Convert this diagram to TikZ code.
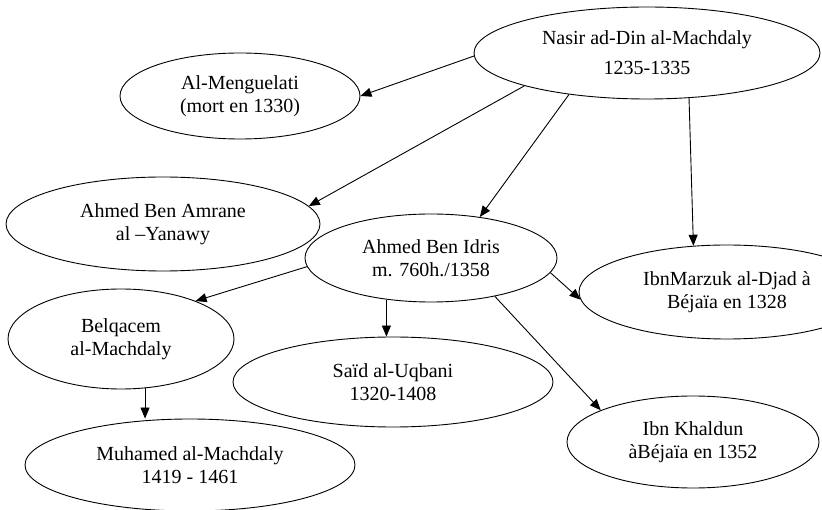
\documentclass[tikz,border=0pt]{standalone}
\usepackage{fontspec}
\setmainfont{Liberation Serif}
\usetikzlibrary{shapes.geometric,arrows.meta}

\begin{document}
\begin{tikzpicture}[x=1pt,y=-1pt,
    person/.style={draw, ellipse, line width=0.9pt, inner sep=0pt, align=center,
        font=\fontsize{20}{23}\selectfont},
    link/.style={-{Triangle[length=11pt,width=9pt]}, line width=0.9pt}]
    \useasboundingbox (0,0) rectangle (822,510);
    % persons
    \node[person, minimum width=346pt, minimum height=92pt] (nasir) at (647,53)
        {Nasir ad-Din al-Machdaly\\[7pt]1235-1335};
    \node[person, minimum width=240pt, minimum height=86pt] (meng) at (240,96)
        {Al-Menguelati\\ (mort en 1330)};
    \node[person, minimum width=314pt, minimum height=94pt] (amrane) at (163,224)
        {Ahmed Ben Amrane\\al –Yanawy};
    \node[person, minimum width=252pt, minimum height=88pt] (idris) at (431,258)
        {Ahmed Ben Idris\\m. 760h./1358};
    \node[person, minimum width=296pt, minimum height=94pt] (marzuk) at (727,292)
        {IbnMarzuk al-Djad à\\Béjaïa en 1328};
    \node[person, minimum width=226pt, minimum height=100pt] (belq) at (121,339)
        {Belqacem\\al-Machdaly};
    \node[person, minimum width=320pt, minimum height=90pt] (said) at (393,382)
        {Saïd al-Uqbani\\1320-1408};
    \node[person, minimum width=330pt, minimum height=92pt] (muh) at (190,465)
        {Muhamed al-Machdaly\\1419 - 1461};
    \node[person, minimum width=252pt, minimum height=92pt] (khal) at (693,442)
        {Ibn Khaldun\\àBéjaïa en 1352};
    % links
    \draw[link] (nasir.181) -- (meng.0);
    \draw[link] (nasir.195) -- (amrane.7);
    \draw[link] (nasir.208) -- (idris.40);
    \draw[link] (nasir.313.6) -- (marzuk.126.7);
    \draw[link] (idris.184) -- (belq.27);
    \draw[link] (idris.223) -- (idris.223 |- said.north);
    \draw[link] (idris.353) -- (marzuk.183.6);
    \draw[link] (idris.329) -- (khal.161);
    \draw[link] (belq.296) -- (belq.296 |- muh.north);
\end{tikzpicture}
\end{document}
